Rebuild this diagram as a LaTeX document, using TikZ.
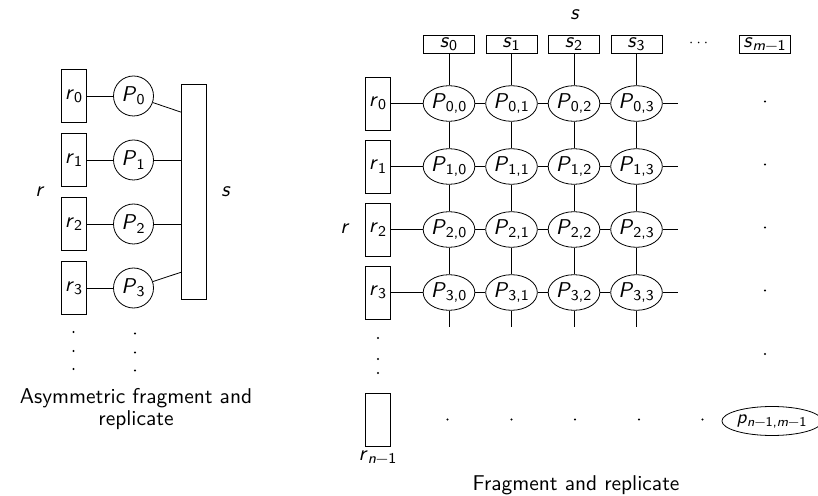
\documentclass[tikz,border=0pt]{standalone}
\usepackage{tikz}
\usetikzlibrary{calc,positioning,shapes.geometric}
\usepackage{amssymb}
\usepackage{amsmath}

\newcommand{\vr}[2]{\textit{#1}\textsubscript{#2}}
\newcommand{\nm}[1]{\textit{#1}−1}

\tikzset{
  rbox/.style={draw, rectangle, inner sep=0pt, minimum width=12.5pt, minimum height=26.5pt},
  sbox/.style={draw, rectangle, inner sep=0pt, minimum width=25.5pt, minimum height=9pt},
  sbig/.style={draw, rectangle, inner sep=0pt, minimum width=12.7pt, minimum height=107.5pt},
  proc/.style={draw, circle, inner sep=0pt, minimum size=20pt},
  pel/.style={draw, ellipse, inner sep=0pt, minimum width=24.5pt, minimum height=17.8pt},
  pbig/.style={draw, ellipse, inner sep=0pt, minimum width=45.5pt, minimum height=14.5pt},
  dot/.style={fill, circle, inner sep=0pt, minimum size=1.2pt},
}

\begin{document}
\begin{tikzpicture}[x=0.5pt, y=-0.5pt, font=\fontsize{10.7}{10.85}\selectfont\sffamily]
\useasboundingbox (0,0) rectangle (818,496);
% asymmetric
\foreach \i/\y in {0/96,1/160,2/224,3/288} {
  \node[rbox] (r\i) at (74,\y) {\vr{r}{\i}};
  \node[proc] (P\i) at (133.5,\y) {\vr{P}{\i}};
  \draw (r\i) -- (P\i);
}
\node[sbig] (S) at (194,192) {};
\draw (P0) -- ($(S.north west)+(0,28)$);
\draw (P1) -- (P1 -| S.west);
\draw (P2) -- (P2 -| S.west);
\draw (P3) -- ($(S.south west)+(0,-27.6)$);
\node (rlab) at (40,192) {\textit{r}};
\node (slab) at (226,192) {\textit{s}};
\foreach \y in {332,351,369} {
  \node[dot] at (73.5,\y) {};
  \node[dot] at (135,\y+1.5) {};
}
\node[align=center] (capA) at (136,409) {Asymmetric fragment and\\replicate};

% fragment and replicate
\node (stop) at (575,15) {\textit{s}};
\foreach \j/\x in {0/449,1/511.5,2/574,3/636.5}
  \node[sbox] (s\j) at (\x,44) {\vr{s}{\j}};
\node[font=\scriptsize] (sdots) at (700,43) {$\cdots$};
\node[sbox] (sm) at (765,44) {\vr{s}{\nm{m}}};
\foreach \i/\y in {0/103.5,1/166.5,2/229.5,3/292.5} {
  \node[rbox] (R\i) at (378,\y) {\vr{r}{\i}};
  \foreach \j/\x in {0/449,1/511.5,2/574,3/636.5}
    \node[pel] (P\i\j) at (\x,\y) {\vr{P}{\i,\j}};
  \coordinate (e\i) at (678,\y);
  \draw (R\i) -- (P\i0) -- (P\i1) -- (P\i2) -- (P\i3) -- (e\i);
  \node[dot] at (765,\y-2) {};
}
\foreach \j/\x in {0/449,1/511.5,2/574,3/636.5} {
  \coordinate (b\j) at (\x,327);
  \draw (s\j) -- (P0\j) -- (P1\j) -- (P2\j) -- (P3\j) -- (b\j);
}
\node[dot] at (765,354) {};
\foreach \y in {338,359,373}
  \node[dot] at (378,\y) {};
\node (rmid) at (345,229) {\textit{r}};
\node[rbox] (Rn) at (378,420) {};
\node (rnlab) at (378,457) {\vr{r}{\nm{n}}};
\foreach \x in {447.5,511.5,575,639,702.5}
  \node[dot] at (\x,419.5) {};
\node[pbig, font=\fontsize{9.6}{10}\selectfont\sffamily] (Pnm) at (772,421) {\vr{p}{\nm{n},\nm{m}}};
\node (capB) at (576,485) {Fragment and replicate};
\end{tikzpicture}
\end{document}
